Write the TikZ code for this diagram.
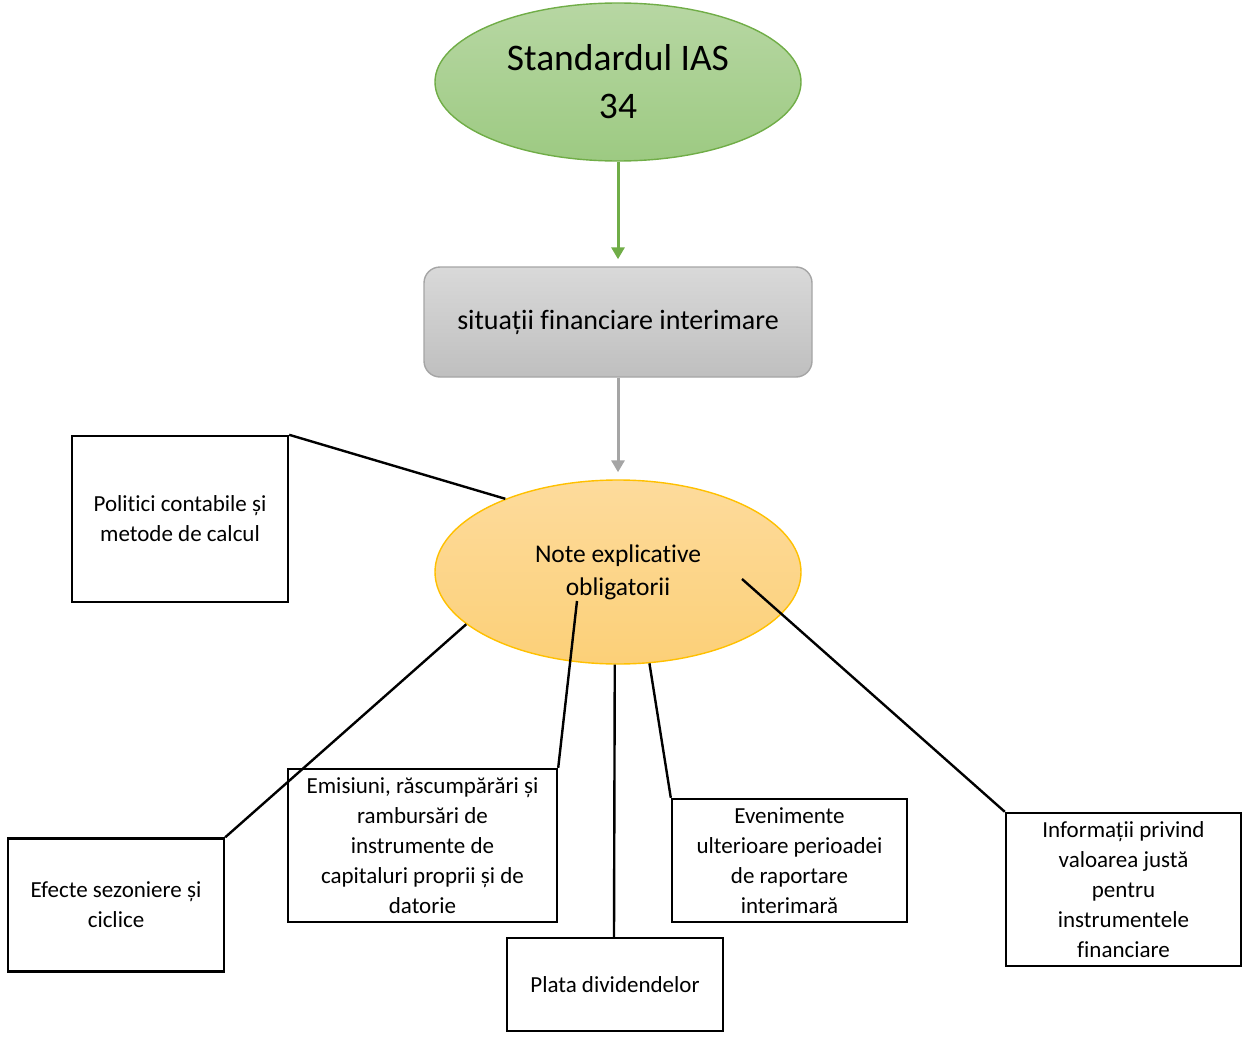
\documentclass[tikz,border=0pt]{standalone}
\usepackage{fontspec}
\setmainfont{Carlito}[RawFeature={-liga;-clig;-calt;-dlig;-rlig}]
\usetikzlibrary{arrows.meta,calc,shapes.geometric}
\definecolor{gborder}{HTML}{70AD47}
\definecolor{gtop}{HTML}{B7D7A3}
\definecolor{gbot}{HTML}{9DCA82}
\definecolor{graytop}{HTML}{D9D9D9}
\definecolor{graybot}{HTML}{BFBFBF}
\definecolor{grayborder}{HTML}{A5A5A5}
\definecolor{otop}{HTML}{FDDB9C}
\definecolor{obot}{HTML}{FCD078}
\definecolor{oborder}{HTML}{FFC000}
\tikzset{
  leaf/.style={draw=black, line width=2.4pt, fill=white, inner sep=0pt, align=center,
    font=\fontsize{23}{30}\selectfont},
  link/.style={draw=black, line width=2.4pt},
}
\begin{document}
\begin{tikzpicture}[x=1pt,y=-1pt]
\useasboundingbox (0,0) rectangle (1248,1041);
% top ellipse
\node[ellipse, draw=gborder, line width=1.4pt, top color=gtop, bottom color=gbot,
  minimum width=366pt, minimum height=158pt, inner sep=0pt, align=center,
  font=\fontsize{37.5}{48}\selectfont] (ias) at (618,82) {Standardul IAS\\34};
% gray box
\node[rectangle, rounded corners=16pt, draw=grayborder, line width=1.4pt,
  top color=graytop, bottom color=graybot,
  minimum width=388pt, minimum height=110pt, inner sep=0pt,
  font=\fontsize{28}{32}\selectfont] (sit) at (618,322) {situații financiare interimare};
% orange ellipse
\node[ellipse, draw=oborder, line width=1.4pt, top color=otop, bottom color=obot,
  minimum width=366pt, minimum height=184pt, inner sep=0pt, align=center,
  font=\fontsize{25.5}{33}\selectfont] (note) at (618,572) {Note explicative\\obligatorii};
% arrows
\draw[gborder, line width=3pt, -{Triangle[length=12pt,width=13pt]}]
  (ias.south) -- ($(sit.north)+(0,-7)$);
\draw[grayborder, line width=3pt, -{Triangle[length=12pt,width=13pt]}]
  (sit.south) -- ($(note.north)+(0,-7)$);
% leaf boxes
\node[leaf, minimum width=216pt, minimum height=166pt] (pol) at (180,519)
  {Politici contabile și\\metode de calcul};
\node[leaf, minimum width=216pt, minimum height=133pt] (efe) at (116,905)
  {Efecte sezoniere și\\ciclice};
\node[leaf, minimum width=269pt, minimum height=153pt] (emi) at (422.5,845.5)
  {Emisiuni, răscumpărări și\\rambursări de\\instrumente de\\capitaluri proprii și de\\datorie};
\node[leaf, minimum width=216pt, minimum height=93pt] (pla) at (615,984.5)
  {Plata dividendelor};
\node[leaf, minimum width=235pt, minimum height=123pt] (eve) at (789.5,860.5)
  {Evenimente\\ulterioare perioadei\\de raportare\\interimară};
\node[leaf, minimum width=235pt, minimum height=153pt] (inf) at (1123.5,889.5)
  {Informații privind\\valoarea justă\\pentru\\instrumentele\\financiare};
% connectors
\draw[link] (pol.north east) -- (note.147);
\draw[link] (efe.north east) -- (note.199);
\draw[link] (emi.north east) -- ($(note.center)+(-41,29)$);
\draw[link] ($(pla.north)+(-1,0)$) -- (note.268);
\draw[link] (eve.north west) -- (note.289);
\draw[link] (inf.north west) -- ($(note.center)+(124,7)$);
\end{tikzpicture}
\end{document}
